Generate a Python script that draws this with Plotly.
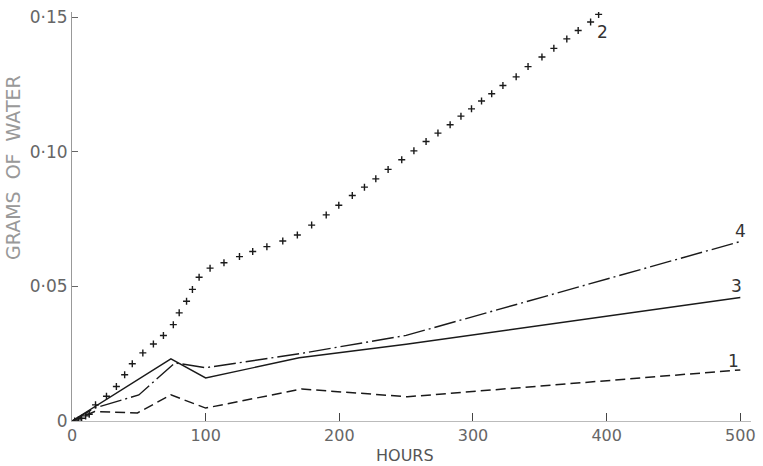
import plotly.graph_objects as go

# Curve 1 (dashed)
hours_1 = [0, 17, 49, 74, 100, 172, 251, 500]
grams_1 = [0, 0.0035, 0.003, 0.0097, 0.0048, 0.0119, 0.009, 0.019]

# Curve 2 (plus markers)
hours_2 = [2, 4.7, 7.2, 10.2, 12.9, 17.6, 25.8, 33.2, 39.4, 45.1, 53.0, 60.9, 68.4,
           75.8, 80.2, 85.7, 90.1, 95.1, 103.3, 113.7, 125.3, 135.2, 145.8, 157.7,
           168.6, 179.3, 190.2, 199.6, 209.7, 218.8, 227.3, 236.5, 246.7, 255.8,
           264.9, 273.8, 282.9, 291.0, 298.9, 306.4, 314.0, 322.4, 332.3, 341.2,
           351.6, 360.5, 370.2, 378.7, 388.0, 394.0]
grams_2 = [0.0, 0.0004, 0.001, 0.0019, 0.0025, 0.006, 0.0092, 0.0128, 0.0172, 0.0213,
           0.0253, 0.0286, 0.0318, 0.0358, 0.0402, 0.0445, 0.0489, 0.0534, 0.0568,
           0.0588, 0.0611, 0.0630, 0.0648, 0.0669, 0.0691, 0.0728, 0.0766, 0.0802,
           0.0838, 0.0869, 0.0900, 0.0935, 0.0971, 0.1004, 0.1039, 0.1070, 0.1101,
           0.1133, 0.1160, 0.1189, 0.1216, 0.1247, 0.1279, 0.1317, 0.1353, 0.1385,
           0.1420, 0.1451, 0.1483, 0.1511]

# Curve 3 (solid)
hours_3 = [0, 74, 100, 170, 250, 500]
grams_3 = [0, 0.0231, 0.016, 0.0235, 0.0285, 0.0459]

# Curve 4 (dash-dot)
hours_4 = [0, 17, 50, 77, 100, 170, 250, 500]
grams_4 = [0, 0.0048, 0.0097, 0.0216, 0.0198, 0.025, 0.0318, 0.0667]

x_ticks = [0, 100, 200, 300, 400, 500]
x_tick_labels = ["0", "100", "200", "300", "400", "500"]
y_ticks = [0, 0.05, 0.10, 0.15]
y_tick_labels = ["0", "0·05", "0·10", "0·15"]

curve_labels = ["1", "2", "3", "4"]
label_x = [495, 397, 497, 500]
label_y = [0.0222, 0.1445, 0.0500, 0.0705]

ink = "#1a1a1a"
font_fam = "'DejaVu Sans', Roboto, sans-serif"

fig = go.Figure()
fig.add_trace(go.Scatter(x=hours_1, y=grams_1, mode="lines",
                         line=dict(color=ink, width=1.5, dash="10px,5px")))
fig.add_trace(go.Scatter(x=hours_2, y=grams_2, mode="markers",
                         marker=dict(symbol="cross-thin", size=5,
                                     line=dict(color=ink, width=1.4))))
fig.add_trace(go.Scatter(x=hours_3, y=grams_3, mode="lines",
                         line=dict(color=ink, width=1.4)))
fig.add_trace(go.Scatter(x=hours_4, y=grams_4, mode="lines",
                         line=dict(color=ink, width=1.4, dash="22px,4px,2px,4px")))

for t, lx, ly in zip(curve_labels, label_x, label_y):
    fig.add_annotation(x=lx, y=ly, text=t, showarrow=False,
                       font=dict(family=font_fam, size=17, color="#333"))

fig.add_annotation(xref="paper", yref="paper", x=0.49, y=-0.085, text="HOURS",
                   showarrow=False, yanchor="middle",
                   font=dict(family=font_fam, size=16, color="#555"))
fig.add_annotation(xref="paper", yref="paper", x=-0.086, y=0.62,
                   text="GRAMS  OF  WATER",
                   showarrow=False, textangle=-90, xanchor="center",
                   font=dict(family=font_fam, size=19, color="#999"))

fig.update_layout(
    width=763, height=466,
    margin=dict(l=72, r=7, t=12, b=45),
    paper_bgcolor="white", plot_bgcolor="white",
    showlegend=False,
    font=dict(family=font_fam, size=17, color="#555"),
    xaxis=dict(range=[0, 508], tickvals=x_ticks, ticktext=x_tick_labels,
               ticks="inside", ticklen=8, tickcolor="#444", tickwidth=1,
               showline=True, linecolor="#bbb", linewidth=1,
               showgrid=False, zeroline=False, ticklabeloverflow="allow",
               tickfont=dict(family=font_fam, size=16, color="#666")),
    yaxis=dict(range=[0, 0.152], tickvals=y_ticks, ticktext=y_tick_labels,
               ticks="inside", ticklen=6, tickcolor="#666", tickwidth=1,
               showline=True, linecolor="#999", linewidth=1,
               showgrid=False, zeroline=False, ticklabeloverflow="allow",
               tickfont=dict(family=font_fam, size=17, color="#666")),
)

# remove the default page margin so the figure fills the window exactly
fig.write_html("out.html", config={"displayModeBar": False},
               post_script="document.body.style.margin='0';")
